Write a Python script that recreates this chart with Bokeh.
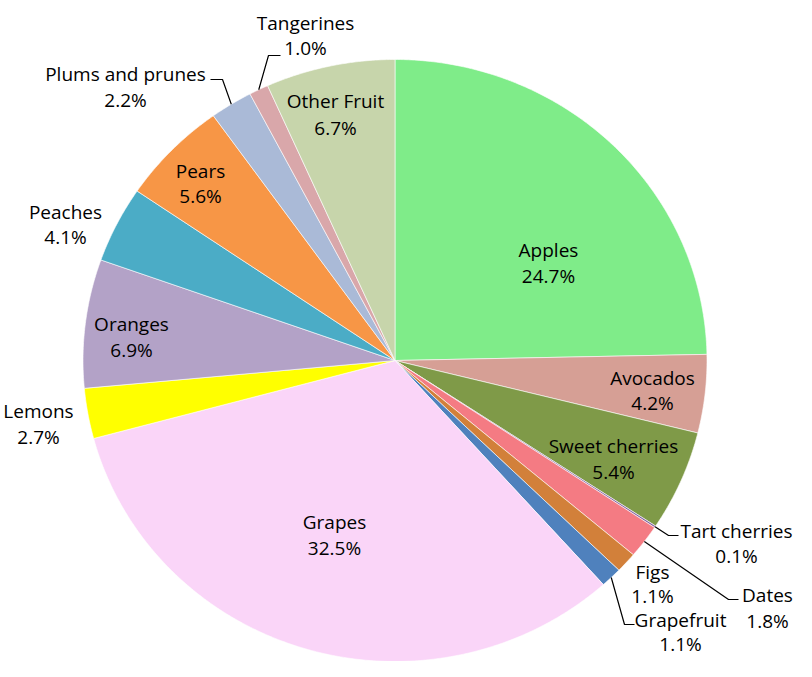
import numpy as np
from bokeh.plotting import figure
from bokeh.models import Range1d, ColumnDataSource
from bokeh.core.properties import value
from bokeh.embed import file_html
from bokeh.resources import INLINE

# ---------------- data ----------------
categories = ["Apples", "Avocados", "Sweet cherries", "Tart cherries", "Dates", "Figs",
              "Grapefruit", "Grapes", "Lemons", "Oranges", "Peaches", "Pears",
              "Plums and prunes", "Tangerines", "Other Fruit"]
shares = [24.7, 4.2, 5.4, 0.1, 1.8, 1.1, 1.1, 32.5, 2.7, 6.9, 4.1, 5.6, 2.2, 1.0, 6.7]
pct_labels = ["24.7%", "4.2%", "5.4%", "0.1%", "1.8%", "1.1%", "1.1%", "32.5%", "2.7%",
              "6.9%", "4.1%", "5.6%", "2.2%", "1.0%", "6.7%"]
colors = ["#7FEC89", "#D69F95", "#7F9A48", "#8064A2", "#F47B83", "#D2803A",
          "#4F81BD", "#FAD5F8", "#FFFF00", "#B3A2C7", "#4BACC6", "#F79646",
          "#AABAD7", "#D9A7AA", "#C7D5AB"]

# ---------------- layout (pixel space) ----------------
W, H = 796, 661
CX, CY = 394.5, 360.0
RX, RY = 312.0, 301.0
FONT = "Open Sans"
FS = "19px"

# label anchor (x, y of name line, y of percent line)
label_pos = {
    "Apples": (548, 249, 275),
    "Avocados": (652, 377, 402),
    "Sweet cherries": (613, 445, 471),
    "Tart cherries": (736, 530, 555),
    "Dates": (767, 594, 620),
    "Figs": (652, 571, 595),
    "Grapefruit": (680, 619, 643),
    "Grapes": (334, 521, 547),
    "Lemons": (38, 410, 436),
    "Oranges": (131, 323, 349),
    "Peaches": (65, 211, 236),
    "Pears": (200, 170, 195),
    "Plums and prunes": (125, 73, 99),
    "Tangerines": (305, 22, 47),
    "Other Fruit": (335, 100, 127),
}
# leader lines: elbow and end point
leaders = {
    "Tart cherries": ((668, 535), (678, 535)),
    "Dates": ((728, 599), (738, 599)),
    "Grapefruit": ((624, 624), (634, 624)),
    "Plums and prunes": ((222, 79), (210, 79)),
    "Tangerines": ((268, 55), (280, 55)),
}

p = figure(width=W, height=H, output_backend="svg", toolbar_location=None,
           x_range=Range1d(0, W), y_range=Range1d(H, 0), min_border=0,
           outline_line_color=None)
p.axis.visible = False
p.grid.visible = False
p.background_fill_color = "white"
p.border_fill_color = "white"

total = float(np.sum(shares))
fr = np.array(shares) / total
ends = np.cumsum(fr)
starts = ends - fr

xs, ys = [], []
for a0, a1 in zip(starts, ends):
    t = np.linspace(a0, a1, max(4, int((a1 - a0) * 720))) * 2 * np.pi
    xs.append([CX] + list(CX + RX * np.sin(t)) + [CX])
    ys.append([CY] + list(CY - RY * np.cos(t)) + [CY])

src = ColumnDataSource(dict(xs=xs, ys=ys, color=colors, name=categories))
p.patches("xs", "ys", source=src, fill_color="color", line_color="white", line_width=0.6)

# leader lines from slice mid-angle on the edge
lx, ly = [], []
for i, c in enumerate(categories):
    if c in leaders:
        mid = (starts[i] + ends[i]) / 2 * 2 * np.pi
        sx, sy = CX + RX * np.sin(mid), CY - RY * np.cos(mid)
        (ex, ey), (fx, fy) = leaders[c]
        lx.append([sx, ex, fx])
        ly.append([sy, ey, fy])
p.multi_line(lx, ly, line_color="black", line_width=1.2)

nx = [label_pos[c][0] for c in categories]
ny = [label_pos[c][1] for c in categories]
py = [label_pos[c][2] for c in categories]
p.text(nx, ny, text=categories, text_align="center", text_baseline="middle",
       text_font=value(FONT), text_font_size=FS, text_color="black")
p.text(nx, py, text=pct_labels, text_align="center", text_baseline="middle",
       text_font=value(FONT), text_font_size=FS, text_color="black")

open("out.html", "w").write(file_html(p, INLINE))
